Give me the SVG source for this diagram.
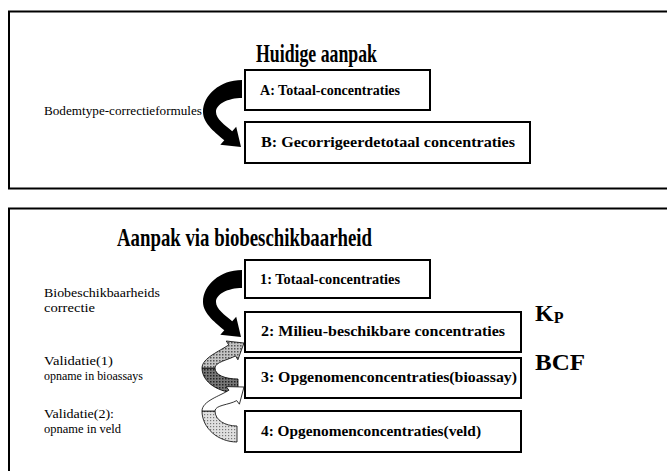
<svg xmlns="http://www.w3.org/2000/svg" width="667" height="471" viewBox="0 0 667 471">
<style>
.frame{fill:none;stroke:#000;stroke-width:2}
.box{fill:#fff;stroke:#000;stroke-width:2}
.title{font-family:"Liberation Serif",serif;font-weight:bold;font-size:26px;fill:#000}
.bt{font-family:"Liberation Serif",serif;font-weight:bold;font-size:14px;fill:#000}
.lbl{font-family:"Liberation Serif",serif;font-size:12px;fill:#000}
.big{font-family:"Liberation Serif",serif;font-weight:bold;font-size:24px;fill:#000}
.blk{fill:#000}
.rib{stroke:#000;stroke-width:0.8;stroke-linejoin:round}
</style>
<defs>
<pattern id="dMed" width="3" height="3" patternUnits="userSpaceOnUse">
<rect width="3" height="3" fill="#c4c4c4"/>
<rect x="0" y="0" width="1.5" height="1.5" fill="#555"/>
</pattern>
<pattern id="dDark" width="3" height="3" patternUnits="userSpaceOnUse">
<rect width="3" height="3" fill="#777"/>
<rect x="0" y="0" width="1.5" height="1.5" fill="#222"/>
</pattern>
<pattern id="dLight" width="3" height="3" patternUnits="userSpaceOnUse">
<rect width="3" height="3" fill="#e0e0e0"/>
<rect x="0" y="0" width="1.2" height="1.2" fill="#777"/>
</pattern>
<path id="blackArrow" d="M242,80 C220,80 203,95 203,112 C203,124 216.8,133.7 224.3,140.3 L220.3,144.8 L241,147 L236.2,126.8 L232.2,131.3 C224.7,124.7 216,119 216,112 C216,104 228,98 242,98 Z"/>
</defs>

<g id="panel-top">
<rect class="frame" x="9" y="11.5" width="668" height="177"/>
<text class="title" x="256" y="62" textLength="121" lengthAdjust="spacingAndGlyphs">Huidige aanpak</text>
<text class="lbl" x="44" y="115" textLength="158" lengthAdjust="spacingAndGlyphs">Bodemtype-correctieformules</text>
</g>
<g id="nodeA">
<rect class="box" x="245" y="70" width="185" height="40"/>
<text class="bt" x="260" y="95" textLength="140" lengthAdjust="spacingAndGlyphs">A: Totaal-concentraties</text>
</g>
<g id="nodeB">
<rect class="box" x="245" y="122" width="285" height="41"/>
<text class="bt" x="261" y="147" textLength="254" lengthAdjust="spacingAndGlyphs">B: Gecorrigeerdetotaal concentraties</text>
</g>

<g id="panel-bottom">
<rect class="frame" x="9" y="208.5" width="668" height="280"/>
<text class="title" x="117" y="246" textLength="255" lengthAdjust="spacingAndGlyphs">Aanpak via biobeschikbaarheid</text>
<text class="lbl" x="44" y="297" textLength="116" lengthAdjust="spacingAndGlyphs">Biobeschikbaarheids</text>
<text class="lbl" x="44" y="312" textLength="51" lengthAdjust="spacingAndGlyphs">correctie</text>
<text class="lbl" x="44" y="365" textLength="69" lengthAdjust="spacingAndGlyphs">Validatie(1)</text>
<text class="lbl" x="44" y="380" textLength="99" lengthAdjust="spacingAndGlyphs">opname in bioassays</text>
<text class="lbl" x="44" y="418" textLength="70" lengthAdjust="spacingAndGlyphs">Validatie(2):</text>
<text class="lbl" x="44" y="433" textLength="77" lengthAdjust="spacingAndGlyphs">opname in veld</text>
<text class="big" x="535" y="321">K<tspan font-size="16" dy="2">P</tspan></text>
<text class="big" x="535" y="370" textLength="50" lengthAdjust="spacingAndGlyphs">BCF</text>
</g>
<g id="node1">
<rect class="box" x="245" y="260" width="185" height="38"/>
<text class="bt" x="260" y="284" textLength="140" lengthAdjust="spacingAndGlyphs">1: Totaal-concentraties</text>
</g>
<g id="node2">
<rect class="box" x="245" y="312" width="276" height="40"/>
<text class="bt" x="261" y="336" textLength="244" lengthAdjust="spacingAndGlyphs">2: Milieu-beschikbare concentraties</text>
</g>
<g id="node3">
<rect class="box" x="245" y="358" width="276" height="40"/>
<text class="bt" x="261" y="382" textLength="256" lengthAdjust="spacingAndGlyphs">3: Opgenomenconcentraties(bioassay)</text>
</g>
<g id="node4">
<rect class="box" x="245" y="411" width="276" height="41"/>
<text class="bt" x="261" y="436" textLength="220" lengthAdjust="spacingAndGlyphs">4: Opgenomenconcentraties(veld)</text>
</g>

<g id="connectors">
<use href="#blackArrow" class="blk"/>
<use href="#blackArrow" class="blk" transform="translate(0,190)"/>
<path class="rib" fill="url(#dDark)" d="M238,393 C220,393 202,383 202,368 L215,368 C215,375 225,379 238,379 Z"/>
<path class="rib" fill="url(#dMed)" d="M202,368 C202,358 220,351 228.7,344.9 L226.3,341 L244,343 L237.9,359.8 L235.5,355.9 C228,360 215,362 215,368 Z"/>
<path class="rib" fill="url(#dLight)" d="M237,442 C218,442 202,428 202,411 L215,411 C215,420 225,426 237,426 Z"/>
<path class="rib" fill="#fff" d="M202,411 C202,401 220,396 228.9,390.2 L226.2,386.6 L244,387 L239.4,404.2 L236.7,400.6 C229,405 215,405 215,411 Z"/>
</g>
</svg>
